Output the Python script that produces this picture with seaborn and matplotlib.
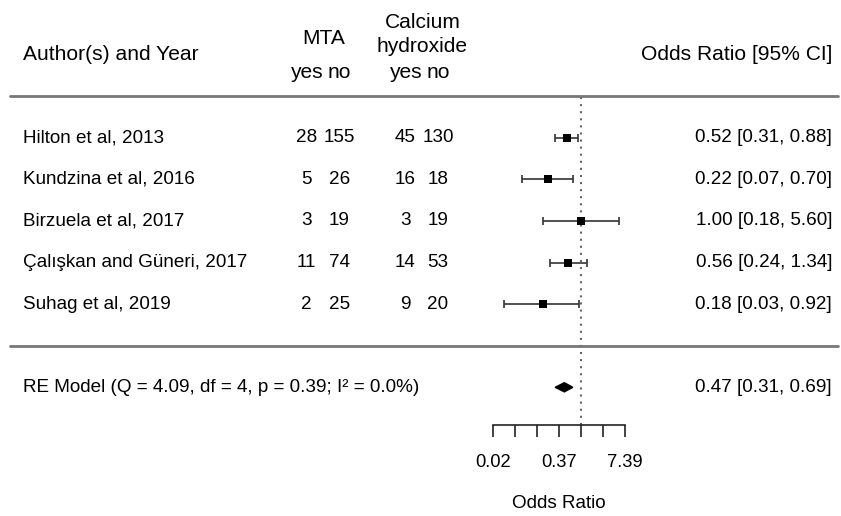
import numpy as np
import pandas as pd
import matplotlib
matplotlib.use("Agg")
import matplotlib.pyplot as plt
import matplotlib.transforms as mtransforms
import seaborn as sns

# ---------------- data ----------------
studies = ["Hilton et al, 2013", "Kundzina et al, 2016", "Birzuela et al, 2017",
           "Çalışkan and Güneri, 2017", "Suhag et al, 2019"]
mta_yes = [28, 5, 3, 11, 2]
mta_no = [155, 26, 19, 74, 25]
ca_yes = [45, 16, 3, 14, 9]
ca_no = [130, 18, 19, 53, 20]
or_est = [0.52, 0.22, 1.00, 0.56, 0.18]
or_lo = [0.31, 0.07, 0.18, 0.24, 0.03]
or_hi = [0.88, 0.70, 5.60, 1.34, 0.92]
re_est, re_lo, re_hi = 0.47, 0.31, 0.69
re_label = "RE Model (Q = 4.09, df = 4, p = 0.39; I² = 0.0%)"
tick_logs = [-4, -3, -2, -1, 0, 1, 2]
tick_labels = ["0.02", "", "", "0.37", "", "", "7.39"]

sns.set_style("white")
plt.rcParams["font.family"] = ["Liberation Sans", "DejaVu Sans"]
plt.rcParams["text.color"] = "black"
plt.rcParams["xtick.labelcolor"] = "black"

W, H = 841, 516
fig = plt.figure(figsize=(W / 100, H / 100), dpi=100)
ax = fig.add_axes([0, 0, 1, 1])

# pixel geometry helpers (layout only)
X0, XS = 581.0, 22.07      # pixel of OR=1, pixels per log unit
Y5, YS = 137.7, 41.6       # pixel of row 5, pixels per row
def row(py):
    return 5 - (py - Y5) / YS
def fx(px):
    return px / W

ax.set_xscale("log")
ax.set_xlim(np.exp(-X0 / XS), np.exp((W - X0) / XS))
ax.set_ylim(row(H), row(0))

rows = [5, 4, 3, 2, 1]
df = pd.DataFrame({"study": studies, "or": or_est, "lo": or_lo, "hi": or_hi, "row": rows})

# CI lines
ax.errorbar(df["or"], df["row"],
            xerr=[df["or"] - df["lo"], df["hi"] - df["or"]],
            fmt="none", ecolor="#333333", elinewidth=1.2, capsize=3.2, capthick=1.2, zorder=2)
# squares
sns.scatterplot(data=df, x="or", y="row", marker="s", color="black", s=40,
                edgecolor="black", linewidth=0, ax=ax, zorder=3, legend=False)

# RE diamond
h = 0.11
ax.fill([re_lo, re_est, re_hi, re_est], [-1, -1 + h, -1, -1 - h], color="black", zorder=3)

# reference line
ax.plot([1, 1], [row(96.7), row(425)], color="#666666", lw=1.5,
        linestyle=(0, (1, 2.4)), zorder=1)

# separators
for r in (6, 0):
    ax.axhline(r, xmin=fx(10), xmax=fx(838), color="#777777", lw=2)

# axis
for s in ("top", "left", "right"):
    ax.spines[s].set_visible(False)
ax.spines["bottom"].set_position(("data", row(425)))
ax.spines["bottom"].set_bounds(np.exp(tick_logs[0]), np.exp(tick_logs[-1]))
ax.spines["bottom"].set_color("#222222")
ax.spines["bottom"].set_linewidth(1.2)
ax.set_xticks(np.exp(tick_logs))
ax.set_xticklabels(tick_labels)
ax.minorticks_off()
ax.tick_params(axis="x", direction="out", length=8.6, width=1.2, color="#222222",
               pad=12.5, labelsize=13.2, labelcolor="black", bottom=True)
ax.set_yticks([])
ax.set_xlabel("")
ax.set_ylabel("")
ax.text(np.exp(-1), row(503), "Odds Ratio", ha="center", va="center", fontsize=13.6)

T = mtransforms.blended_transform_factory(ax.transAxes, ax.transData)
BS, HS = 13.6, 15.1

# headers
ax.text(fx(23), 7, "Author(s) and Year", transform=T, ha="left", va="center", fontsize=HS)
ax.text(fx(324), row(38), "MTA", transform=T, ha="center", va="center", fontsize=HS)
ax.text(fx(423), row(22), "Calcium", transform=T, ha="center", va="center", fontsize=HS)
ax.text(fx(422), row(46.5), "hydroxide", transform=T, ha="center", va="center", fontsize=HS)
for px, t in [(307, "yes"), (339, "no"), (406, "yes"), (438, "no")]:
    ax.text(fx(px), row(72), t, transform=T, ha="center", va="center", fontsize=HS)
ax.text(fx(832), 7, "Odds Ratio [95% CI]", transform=T, ha="right", va="center", fontsize=HS)

# study rows
for i, r in enumerate(rows):
    ax.text(fx(23), r, studies[i], transform=T, ha="left", va="center", fontsize=BS)
    for px, v in [(306.5, mta_yes[i]), (339.5, mta_no[i]), (405.5, ca_yes[i]), (438, ca_no[i])]:
        ax.text(fx(px), r, str(v), transform=T, ha="center", va="center", fontsize=BS)
    ax.text(fx(832), r, f"{or_est[i]:.2f} [{or_lo[i]:.2f}, {or_hi[i]:.2f}]",
            transform=T, ha="right", va="center", fontsize=BS)

ax.text(fx(23), -1, re_label, transform=T, ha="left", va="center", fontsize=BS)
ax.text(fx(832), -1, f"{re_est:.2f} [{re_lo:.2f}, {re_hi:.2f}]",
        transform=T, ha="right", va="center", fontsize=BS)

fig.savefig("out.png", dpi=100)
